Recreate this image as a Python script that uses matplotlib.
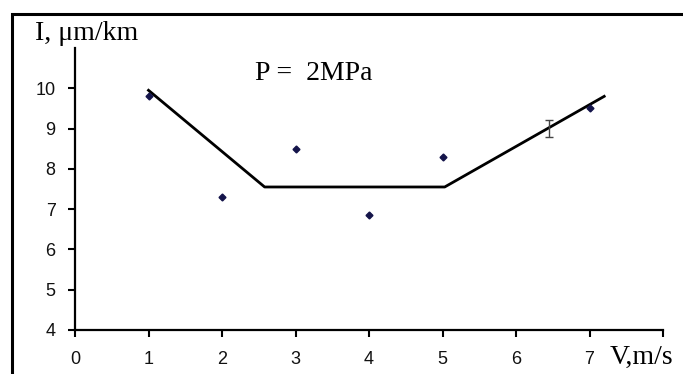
import matplotlib
matplotlib.use("Agg")
import matplotlib.pyplot as plt
from matplotlib.patches import Rectangle

# data
v_points = [1, 2, 3, 4, 5, 7]
i_points = [9.8, 7.3, 8.5, 6.85, 8.3, 9.5]
v_line = [1.0, 2.58, 5.03, 7.2]
i_line = [9.95, 7.55, 7.55, 9.8]
err_v = [6.45]
err_i = [9.0]
err_e = [0.21]
x_ticks = [0, 1, 2, 3, 4, 5, 6, 7, 8]
x_labels = ["0", "1", "2", "3", "4", "5", "6", "7", ""]
y_ticks = [4, 5, 6, 7, 8, 9, 10]

fig = plt.figure(figsize=(6.83, 3.74), dpi=100)
fig.patches.append(Rectangle((12/683, -0.1), 1.2, 1 - 14/374 + 0.1,
                             transform=fig.transFigure, fill=False,
                             edgecolor="black", linewidth=2.2))
ax = fig.add_axes([75/683, 1 - 330/374, (663 - 75)/683, (330 - 48)/374])
ax.plot(v_line, i_line, color="black", lw=2)
ax.plot(v_points, i_points, "D", color="#14144a", ms=3.5, ls="none")
ax.errorbar(err_v, err_i, yerr=err_e, fmt="none", ecolor="#444444",
            elinewidth=1, capsize=3)
ax.set_xlim(0, 8)
ax.set_ylim(4, 11)
ax.set_xticks(x_ticks)
ax.set_xticklabels(x_labels)
ax.set_yticks(y_ticks)
for s in ["top", "right"]:
    ax.spines[s].set_visible(False)
for s in ["left", "bottom"]:
    ax.spines[s].set_linewidth(1.6)
ax.tick_params(direction="out", length=5, width=1.5, labelsize=13,
               labelfontfamily="Liberation Sans", labelcolor="#111111")
ax.tick_params(axis="x", pad=10)
ax.tick_params(axis="y", pad=9)
fig.text(35/683, 1 - 33/374, "I, μm/km", family="Liberation Serif",
         fontsize=20, va="center", ha="left")
fig.text(255/683, 1 - 73/374, "P =  2MPa", family="Liberation Serif",
         fontsize=20, va="center", ha="left")
fig.text(610/683, 1 - 357/374, "V,m/s", family="Liberation Serif",
         fontsize=20, va="center", ha="left")
fig.savefig("out.png", dpi=100)
